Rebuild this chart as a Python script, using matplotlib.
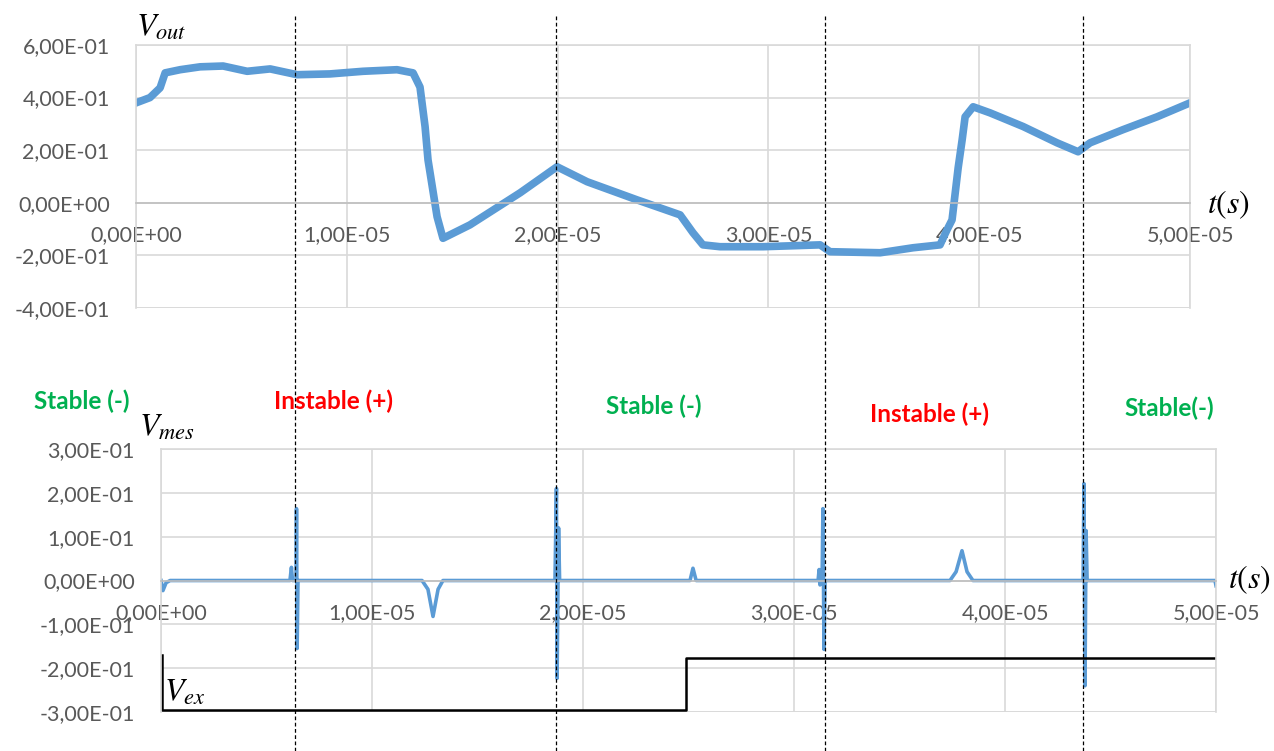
import matplotlib
matplotlib.use("Agg")
import matplotlib.pyplot as plt
from matplotlib.ticker import FuncFormatter, MultipleLocator
from matplotlib.lines import Line2D
import numpy as np

plt.rcParams['font.family'] = ['Lato', 'DejaVu Sans']
plt.rcParams['mathtext.fontset'] = 'stix'

# Vout trace (time in microseconds, volts)
t_out_us = [0.0, 0.66, 1.14, 1.38, 2.09, 3.04, 4.13, 5.27, 6.36, 7.64, 9.20, 10.77,
            12.38, 13.14, 13.47, 13.71, 13.85, 14.28, 14.56, 15.84, 18.22, 19.97,
            21.40, 23.77, 25.81, 26.42, 26.89, 27.70, 29.75, 32.45, 32.92, 35.30,
            36.86, 38.14, 38.47, 38.71, 39.00, 39.19, 39.33, 39.71, 40.51, 42.08,
            43.69, 44.69, 45.26, 46.82, 48.44, 50.0]
v_out = [0.38, 0.40, 0.437, 0.494, 0.506, 0.517, 0.52, 0.50, 0.509, 0.487, 0.49, 0.50,
         0.506, 0.494, 0.44, 0.29, 0.163, -0.053, -0.135, -0.084, 0.038, 0.137,
         0.08, 0.011, -0.046, -0.114, -0.16, -0.167, -0.167, -0.16, -0.186, -0.19,
         -0.171, -0.16, -0.103, -0.065, 0.133, 0.24, 0.327, 0.365, 0.342, 0.29,
         0.228, 0.194, 0.228, 0.278, 0.327, 0.38]

# Vmes trace (time in microseconds, volts)
t_mes_us = [0.0, 0.09, 0.24, 0.43, 6.11, 6.18, 6.23, 6.40, 6.42, 6.45, 6.49,
            12.37, 12.65, 12.89, 13.13, 13.36, 18.67, 18.74, 18.77, 18.84, 18.89,
            25.07, 25.21, 25.36, 31.14, 31.19, 31.23, 31.33, 31.37, 31.42, 31.47,
            37.39, 37.68, 37.96, 38.20, 38.48, 43.70, 43.74, 43.79, 43.84, 43.89,
            49.95, 50.0]
v_mes = [0.0, -0.023, -0.005, 0.0, 0.0, 0.03, 0.0, 0.0, 0.164, -0.155, 0.0,
         0.0, -0.02, -0.082, -0.02, 0.0, 0.0, 0.21, -0.223, 0.12, 0.0,
         0.0, 0.028, 0.0, 0.0, 0.025, -0.01, 0.0, 0.164, -0.157, 0.0,
         0.0, 0.02, 0.068, 0.02, 0.0, 0.0, 0.221, -0.24, 0.114, 0.0,
         0.0, -0.012]

# Vex excitation step
t_ex_us = [0.05, 0.05, 24.9, 24.9, 50.0]
v_ex = [-0.17, -0.295, -0.295, -0.176, -0.176]

# switching instants (bottom time axis, microseconds)
t_switch_us = [6.37, 18.72, 31.45, 43.70]

phase_labels = ["Stable (-)", "Instable (+)", "Stable (-)", "Instable (+)", "Stable(-)"]
phase_colors = ["#00B050", "#FF0000", "#00B050", "#FF0000", "#00B050"]

blue = "#5B9BD5"
grid_c = "#D9D9D9"
txt_c = "#595959"

def sci_comma(v, pos):
    return f"{v:.2E}".replace('.', ',')

fig = plt.figure(figsize=(12.74, 7.51), dpi=100)
ax1 = fig.add_axes([0.1068, 0.5899, 0.8273, 0.3502])
ax2 = fig.add_axes([0.1264, 0.0519, 0.8281, 0.3502])

def style(ax, ylo, yhi, ystep):
    ax.set_xlim(0, 5e-5)
    ax.set_ylim(ylo, yhi)
    ax.xaxis.set_major_locator(MultipleLocator(1e-5))
    ax.yaxis.set_major_locator(MultipleLocator(ystep))
    ax.xaxis.set_major_formatter(FuncFormatter(sci_comma))
    ax.yaxis.set_major_formatter(FuncFormatter(sci_comma))
    ax.grid(True, color=grid_c, linewidth=1.2)
    ax.set_axisbelow(True)
    for s in ['top', 'right', 'left']:
        ax.spines[s].set_color(grid_c)
        ax.spines[s].set_linewidth(1.2)
    ax.spines['bottom'].set_position(('data', 0))
    ax.spines['bottom'].set_color("#BFBFBF")
    ax.spines['bottom'].set_linewidth(1.2)
    ax.axhline(ylo, color=grid_c, linewidth=1.2, zorder=0)
    ax.tick_params(axis='both', length=0, labelsize=15.5, labelcolor=txt_c)
    ax.tick_params(axis='x', pad=16)
    ax.tick_params(axis='y', pad=19)

style(ax1, -0.4, 0.6, 0.2)
style(ax2, -0.3, 0.3, 0.1)

ax1.plot(np.array(t_out_us) * 1e-6, v_out, color=blue, linewidth=5.5)
ax2.plot(np.array(t_mes_us) * 1e-6, v_mes, color=blue, linewidth=2.6)
ax2.plot(np.array(t_ex_us) * 1e-6, v_ex, color='black', linewidth=1.8)

# axis names
fig.text(136 / 1274, 1 - 27 / 751, r"$V_{out}$", fontsize=23, ha='left', va='center')
fig.text(1207 / 1274, 1 - 205 / 751, r"$t(s)$", fontsize=23, ha='left', va='center')
fig.text(139 / 1274, 1 - 427 / 751, r"$V_{mes}$", fontsize=23, ha='left', va='center')
fig.text(1228 / 1274, 1 - 580 / 751, r"$t(s)$", fontsize=23, ha='left', va='center')
fig.text(164 / 1274, 1 - 692 / 751, r"$V_{ex}$", fontsize=23, ha='left', va='center')

# dashed switching lines across both panels
for ts in t_switch_us:
    xd = ax2.transData.transform((ts * 1e-6, 0))[0]
    xf = fig.transFigure.inverted().transform((xd, 0))[0]
    fig.add_artist(Line2D([xf, xf], [0, 1 - 16 / 751], transform=fig.transFigure,
                          color='black', linewidth=0.9, linestyle=(0, (3, 2))))

# phase labels
label_x = [82, 333, 654, 930, 1169]
label_y = [401, 401, 406, 414, 408]
for lab, col, lx, ly in zip(phase_labels, phase_colors, label_x, label_y):
    fig.text(lx / 1274, 1 - ly / 751, lab, color=col, fontsize=17.5, fontweight='bold',
             ha='center', va='center')

fig.savefig("out.png", dpi=100)
